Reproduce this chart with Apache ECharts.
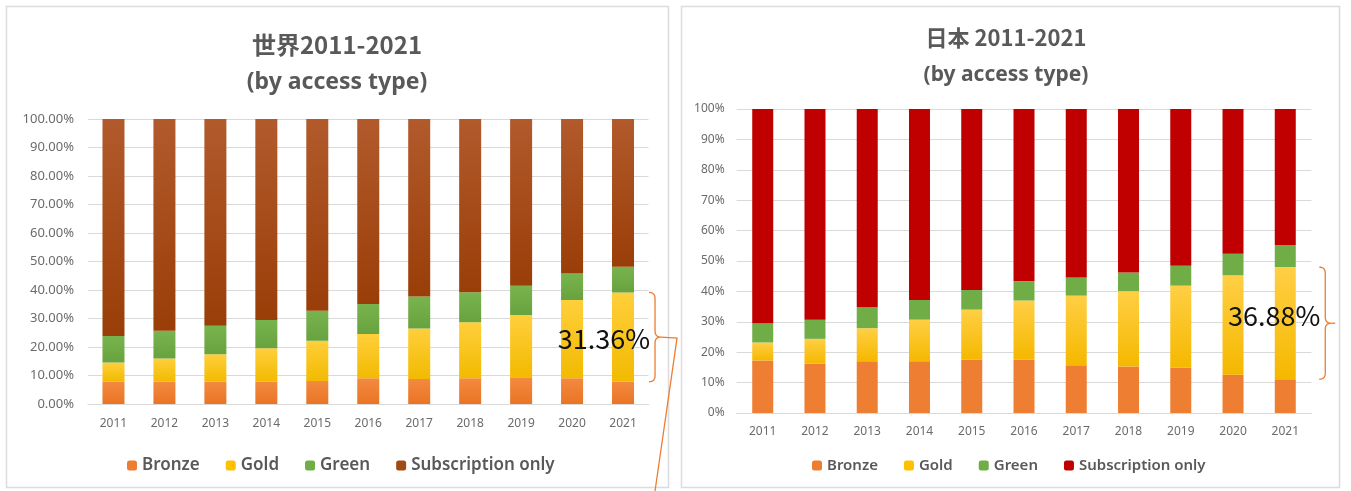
<!DOCTYPE html>
<html>
<head>
<meta charset="utf-8">
<script src="https://cdn.jsdelivr.net/npm/echarts@6/dist/echarts.min.js"></script>
<style>
html,body{margin:0;padding:0;background:#fff;}
#main{width:1351px;height:491px;}
</style>
</head>
<body>
<div id="main"></div>
<script>
// ---- data ----
const years = ['2011','2012','2013','2014','2015','2016','2017','2018','2019','2020','2021'];
const seriesNames = ['Bronze','Gold','Green','Subscription only'];
// World (世界)
const worldBronze = [7.8, 7.8, 7.8, 7.8, 8.1, 9.0, 8.8, 9.0, 9.4, 9.0, 7.8];
const worldGold   = [6.8, 8.2, 9.7, 11.8, 14.1, 15.6, 17.7, 19.7, 21.8, 27.5, 31.36];
const worldGreen  = [9.3, 9.7, 10.0, 9.9, 10.5, 10.5, 11.2, 10.5, 10.3, 9.3, 9.04];
const worldSub    = [76.1, 74.3, 72.5, 70.5, 67.3, 64.9, 62.3, 60.8, 58.5, 54.2, 51.8];
// Japan (日本)
const japanBronze = [17.3, 16.2, 17.0, 17.0, 17.5, 17.5, 15.7, 15.3, 15.0, 12.6, 11.1];
const japanGold   = [5.9, 8.2, 10.9, 13.7, 16.5, 19.5, 22.9, 24.8, 26.9, 32.7, 36.88];
const japanGreen  = [6.2, 6.3, 6.9, 6.5, 6.5, 6.3, 6.0, 6.1, 6.5, 7.1, 7.32];
const japanSub    = [70.6, 69.3, 65.2, 62.8, 59.5, 56.7, 55.4, 53.8, 51.6, 47.6, 44.7];
const worldTicks = { min: 0, max: 100, interval: 10 };
const japanTicks = { min: 0, max: 100, interval: 10 };

// ---- styles ----
function grad(top, bottom){
  return new echarts.graphic.LinearGradient(0,0,0,1,[{offset:0,color:top},{offset:1,color:bottom}]);
}
const C = {
  bronze: '#ED7D31', gold: '#FFC000', green: '#70AD47', subW: '#A04A14', subJ: '#C00000'
};
const FILL = {
  bronzeW: grad('#F38A40','#EA7424'),
  goldW: grad('#FFCF3C','#F2BA00'),
  greenW: grad('#78B44E','#68A23F'),
  subW: grad('#B25A2C','#9A3E08'),
  bronzeJ: '#EE7E32',
  goldJ: grad('#FFCF45','#F5B800'),
  greenJ: '#70AD47',
  subJ: '#C00000'
};
const labelColor = '#6b6b6b';
const gridLine = '#d9d9d9';

const chart = echarts.init(document.getElementById('main'));

function mkSeries(name, data, color, xi, stack){
  return { name, type:'bar', stack, xAxisIndex: xi, yAxisIndex: xi, data,
           barWidth: xi===0 ? 22 : 21, itemStyle:{color}, emphasis:{disabled:true}, animation:false };
}

function xAxis(gi){
  return { type:'category', gridIndex: gi, data: years,
    axisLine:{show:true, lineStyle:{color:gridLine}}, axisTick:{show:false},
    axisLabel:{color:labelColor, fontSize:12, fontFamily:'Noto Sans', margin: gi===0?14:13} };
}
function yAxis(gi, ticks, fmt){
  return { type:'value', gridIndex: gi, min: ticks.min, max: ticks.max, interval: ticks.interval,
    axisLine:{show:false}, axisTick:{show:false},
    splitLine:{lineStyle:{color:gridLine}},
    axisLabel:{color:labelColor, fontSize: gi===0?13:12, fontFamily:'Noto Sans', margin: gi===0?14:12, formatter: fmt} };
}
const legendTextW = {color:'#595959', fontSize:17, fontWeight:600, fontFamily:'Noto Sans'};
const legendTextJ = {color:'#595959', fontSize:15, fontWeight:600, fontFamily:'Noto Sans'};

const option = {
  backgroundColor:'#fff',
  animation:false,
  grid: [
    {left: 88, right: 1351-648.5, top: 119, bottom: 491-404},
    {left: 736.6, right: 1351-1311.4, top: 109, bottom: 491-413}
  ],
  xAxis: [xAxis(0), xAxis(1)],
  yAxis: [
    yAxis(0, worldTicks, v => v.toFixed(2)+'%'),
    yAxis(1, japanTicks, v => v+'%')
  ],
  legend: [
    { left: 122, top: 452, itemWidth:10, itemHeight:10, itemGap:26, textStyle: legendTextW, selectedMode:false,
      data: [
        {name:'Bronze', itemStyle:{color:C.bronze}},
        {name:'Gold', itemStyle:{color:C.gold}},
        {name:'Green', itemStyle:{color:C.green}},
        {name:'Subscription only', itemStyle:{color:C.subW}}
      ]},
    { left: 807, top: 453, itemWidth:10, itemHeight:10, itemGap:26, textStyle: legendTextJ, selectedMode:false,
      data: [
        {name:'Bronze', itemStyle:{color:C.bronze}},
        {name:'Gold', itemStyle:{color:C.gold}},
        {name:'Green', itemStyle:{color:C.green}},
        {name:'Subscription only', itemStyle:{color:C.subJ}}
      ]}
  ],
  series: [
    mkSeries('Bronze', worldBronze, FILL.bronzeW, 0, 'w'),
    mkSeries('Gold', worldGold, FILL.goldW, 0, 'w'),
    mkSeries('Green', worldGreen, FILL.greenW, 0, 'w'),
    mkSeries('Subscription only', worldSub, FILL.subW, 0, 'w'),
    mkSeries('Bronze', japanBronze, FILL.bronzeJ, 1, 'j'),
    mkSeries('Gold', japanGold, FILL.goldJ, 1, 'j'),
    mkSeries('Green', japanGreen, FILL.greenJ, 1, 'j'),
    mkSeries('Subscription only', japanSub, FILL.subJ, 1, 'j')
  ]
};
chart.setOption(option);

// ---- annotations (positions derived from the data via the axes) ----
function quad(p0, p1, p2, n){
  const pts = [];
  for (let i = 0; i <= n; i++){
    const t = i/n, a = (1-t)*(1-t), b = 2*(1-t)*t, c = t*t;
    pts.push([a*p0[0]+b*p1[0]+c*p2[0], a*p0[1]+b*p1[1]+c*p2[1]]);
  }
  return pts;
}
function bracePoints(xv, yT, yB, w, r){
  const yM = (yT+yB)/2, xl = xv - w, xt = xv + w;
  let pts = [];
  pts = pts.concat(quad([xl,yT],[xv,yT],[xv,yT+r],8));
  pts = pts.concat(quad([xv,yM-r],[xv,yM],[xt,yM],8));
  pts = pts.concat(quad([xt,yM],[xv,yM],[xv,yM+r],8));
  pts = pts.concat(quad([xv,yB-r],[xv,yB],[xl,yB],8));
  return pts;
}
const last = years.length-1;
const wB = chart.convertToPixel({gridIndex:0}, [years[last], worldBronze[last]]);
const wT = chart.convertToPixel({gridIndex:0}, [years[last], worldBronze[last]+worldGold[last]]);
const jB = chart.convertToPixel({gridIndex:1}, [years[last], japanBronze[last]]);
const jT = chart.convertToPixel({gridIndex:1}, [years[last], japanBronze[last]+japanGold[last]]);
const wxv = wB[0] + 32, jxv = jB[0] + 40;
const wyM = (wT[1]+wB[1])/2, jyM = (jT[1]+jB[1])/2;
const orange = '#ED7D31';
const titleColor = '#595959';

chart.setOption({
  graphic: [
    {type:'rect', z:-10, silent:true, shape:{x:6.5,y:6.5,width:662,height:481}, style:{fill:null, stroke:'#dcdcdc', lineWidth:1.5}},
    {type:'rect', z:-10, silent:true, shape:{x:681.5,y:6.5,width:658,height:481}, style:{fill:null, stroke:'#dcdcdc', lineWidth:1.5}},
    {type:'text', x:337, y:45, style:{text:'世界2011-2021', fill:titleColor, font:'bold 24px "Noto Sans CJK JP", sans-serif', textAlign:'center', textVerticalAlign:'middle'}},
    {type:'text', x:337, y:82, style:{text:'(by access type)', fill:titleColor, font:'bold 23px "Noto Sans", sans-serif', textAlign:'center', textVerticalAlign:'middle'}},
    {type:'text', x:1006, y:38, style:{text:'日本 2011-2021', fill:titleColor, font:'bold 22px "Noto Sans CJK JP", sans-serif', textAlign:'center', textVerticalAlign:'middle'}},
    {type:'text', x:1006, y:75, style:{text:'(by access type)', fill:titleColor, font:'bold 21px "Noto Sans", sans-serif', textAlign:'center', textVerticalAlign:'middle'}},
    {type:'polyline', shape:{points: bracePoints(wxv, wT[1], wB[1], 6, 6)}, style:{fill:null, stroke:orange, lineWidth:1.3}},
    {type:'polyline', shape:{points:[[wxv+6, wyM],[wxv+22, wyM+1],[wxv, 491]]}, style:{fill:null, stroke:orange, lineWidth:1.3}},
    {type:'text', x:wxv-5, y:wyM+2, z:100, style:{text: worldGold[last].toFixed(2)+'%', fill:'#111', font:'27px "Noto Sans CJK JP", "Noto Sans", sans-serif', textAlign:'right', textVerticalAlign:'middle'}},
    {type:'polyline', shape:{points: bracePoints(jxv, jT[1], jB[1], 6, 6)}, style:{fill:null, stroke:orange, lineWidth:1.3}},
    {type:'line', shape:{x1:jxv+6, y1:jyM, x2:jxv+10, y2:jyM}, style:{stroke:orange, lineWidth:1.3}},
    {type:'text', x:jxv-5, y:jyM-7, z:100, style:{text: japanGold[last].toFixed(2)+'%', fill:'#111', font:'27px "Noto Sans CJK JP", "Noto Sans", sans-serif', textAlign:'right', textVerticalAlign:'middle'}}
  ]
});
</script>
</body>
</html>
